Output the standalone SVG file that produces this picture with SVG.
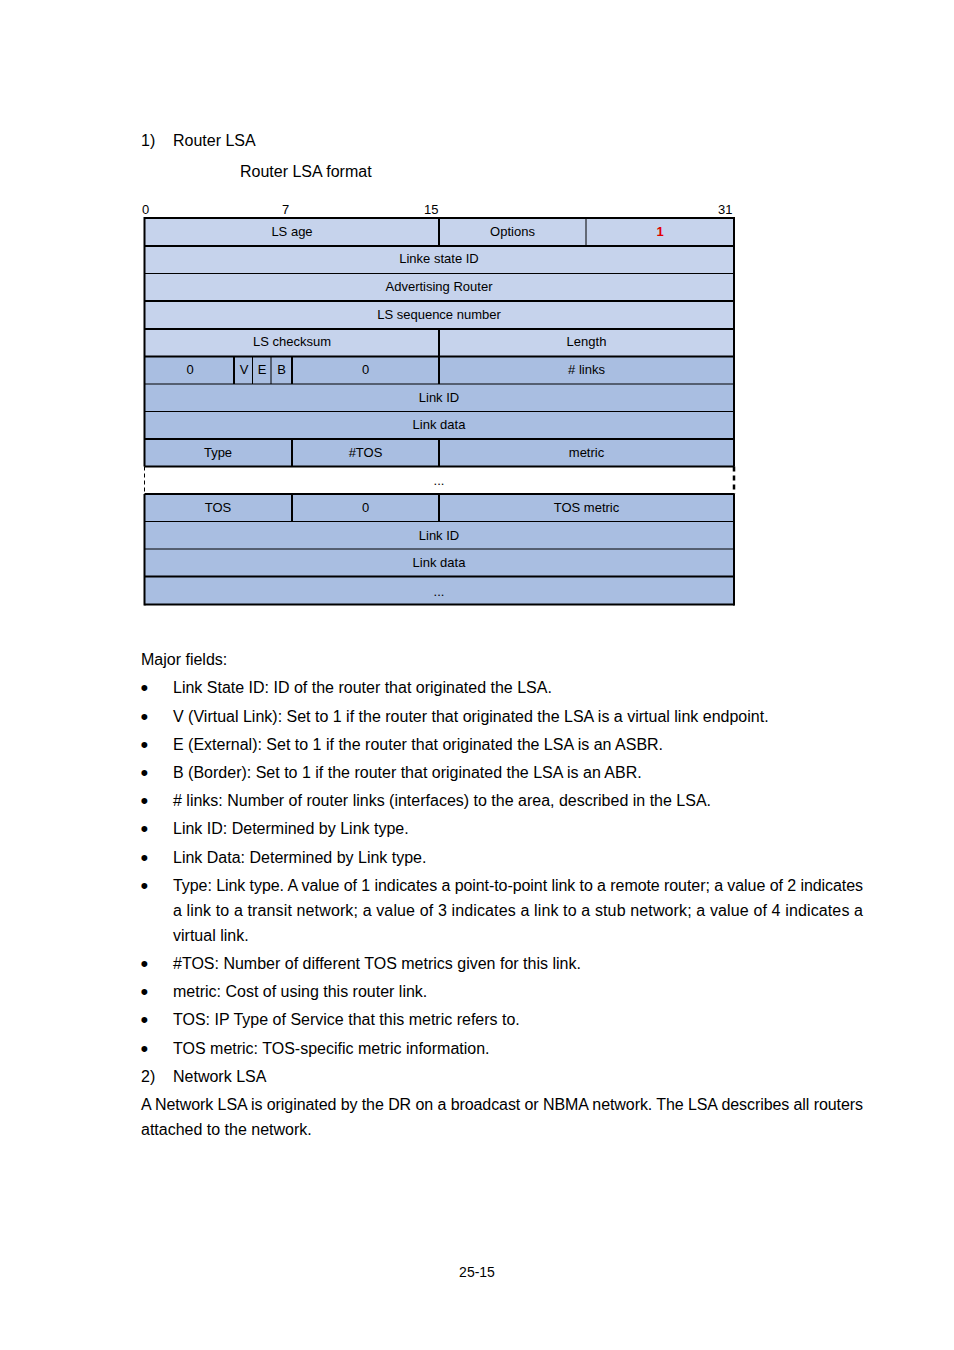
<svg xmlns="http://www.w3.org/2000/svg" width="954" height="1350" viewBox="0 0 954 1350">
<style>
text{font-family:"Liberation Sans",Arial,sans-serif;fill:#000}
.b{font-size:16px}
.d{font-size:22px}
.t{font-size:13px;text-anchor:middle}
.n{font-size:13px}
.l1{fill:#C6D3EC}
.l2{fill:#A9BEE1}
.k{stroke:#000;stroke-width:2;fill:none}
.h{stroke:#000;stroke-width:1;fill:none}
</style>
<rect width="954" height="1350" fill="#fff"/>
<text class="b" x="141" y="146">1)</text>
<text class="b" x="173" y="146">Router LSA</text>
<text class="b" x="240" y="177">Router LSA format</text>

<g id="bits">
<text class="n" x="142" y="214">0</text>
<text class="n" x="282" y="214">7</text>
<text class="n" x="424" y="214">15</text>
<text class="n" x="718" y="214">31</text>
</g>

<g id="table">
<rect class="l1" x="145" y="218" width="589" height="138.5"/>
<rect class="l2" x="145" y="356.5" width="589" height="110"/>
<rect class="l2" x="145" y="494" width="589" height="110.5"/>
<g id="rows">
<path class="k" d="M144.5 218H734.5M144.5 246H734.5M144.5 301H734.5M144.5 329H734.5M144.5 356.5H734.5M144.5 439H734.5M144.5 466.5H734.5M144.5 494H734.5M144.5 576.5H734.5M144.5 604.5H734.5"/>
<path class="h" d="M144.5 273.5H734.5M144.5 384H734.5M144.5 411.5H734.5M144.5 521.5H734.5M144.5 549H734.5"/>
<path class="k" d="M144.5 217V466.5M734 217V466.5M144.5 494V605.5M734 494V605.5"/>
<path class="k" d="M439 218V246M439 329V384M439 439V466.5M439 494V521.5M292 356.5V384M292 439V466.5M292 494V521.5M234 356.5V384"/>
<path class="h" d="M586 218V246M252.5 356.5V384M271 356.5V384"/>
<path class="h" stroke-dasharray="4,3" d="M144.5 466.5V494"/>
<path d="M734 466.5V494" stroke="#000" stroke-width="2.5" stroke-dasharray="5,4" fill="none"/>
</g>
<g id="labels">
<text class="t" x="292" y="235.5">LS age</text>
<text class="t" x="512.5" y="235.5">Options</text>
<text class="t" x="660" y="235.5" style="fill:#E00000;font-weight:bold">1</text>
<text class="t" x="439" y="263">Linke state ID</text>
<text class="t" x="439" y="291">Advertising Router</text>
<text class="t" x="439" y="318.5">LS sequence number</text>
<text class="t" x="292" y="346">LS checksum</text>
<text class="t" x="586.5" y="346">Length</text>
<text class="t" x="190" y="373.5">0</text>
<text class="t" x="244" y="373.5">V</text>
<text class="t" x="262" y="373.5">E</text>
<text class="t" x="281.5" y="373.5">B</text>
<text class="t" x="365.5" y="373.5">0</text>
<text class="t" x="586.5" y="373.5"># links</text>
<text class="t" x="439" y="401.5">Link ID</text>
<text class="t" x="439" y="428.5">Link data</text>
<text class="t" x="218" y="456.5">Type</text>
<text class="t" x="365.5" y="456.5">#TOS</text>
<text class="t" x="586.5" y="456.5">metric</text>
<text class="t" x="439" y="485">...</text>
<text class="t" x="218" y="511.5">TOS</text>
<text class="t" x="365.5" y="511.5">0</text>
<text class="t" x="586.5" y="511.5">TOS metric</text>
<text class="t" x="439" y="539.5">Link ID</text>
<text class="t" x="439" y="566.5">Link data</text>
<text class="t" x="439" y="596">...</text>
</g>
</g>

<g id="body">
<text class="b" x="141" y="665">Major fields:</text>
<g id="bullets">
<text class="d" x="140.6" y="695">•</text>
<text class="d" x="140.6" y="724">•</text>
<text class="d" x="140.6" y="752">•</text>
<text class="d" x="140.6" y="780">•</text>
<text class="d" x="140.6" y="808">•</text>
<text class="d" x="140.6" y="836">•</text>
<text class="d" x="140.6" y="865">•</text>
<text class="d" x="140.6" y="893">•</text>
<text class="d" x="140.6" y="971">•</text>
<text class="d" x="140.6" y="999">•</text>
<text class="d" x="140.6" y="1027">•</text>
<text class="d" x="140.6" y="1056">•</text>
</g>
<text class="b" x="173" y="693">Link State ID: ID of the router that originated the LSA.</text>
<text class="b" x="173" y="722">V (Virtual Link): Set to 1 if the router that originated the LSA is a virtual link endpoint.</text>
<text class="b" x="173" y="750">E (External): Set to 1 if the router that originated the LSA is an ASBR.</text>
<text class="b" x="173" y="778">B (Border): Set to 1 if the router that originated the LSA is an ABR.</text>
<text class="b" x="173" y="806"># links: Number of router links (interfaces) to the area, described in the LSA.</text>
<text class="b" x="173" y="834">Link ID: Determined by Link type.</text>
<text class="b" x="173" y="863">Link Data: Determined by Link type.</text>
<text class="b" x="173" y="891" textLength="690" lengthAdjust="spacing">Type: Link type. A value of 1 indicates a point-to-point link to a remote router; a value of 2 indicates</text>
<text class="b" x="173" y="916" textLength="690" lengthAdjust="spacing">a link to a transit network; a value of 3 indicates a link to a stub network; a value of 4 indicates a</text>
<text class="b" x="173" y="941">virtual link.</text>
<text class="b" x="173" y="969">#TOS: Number of different TOS metrics given for this link.</text>
<text class="b" x="173" y="997">metric: Cost of using this router link.</text>
<text class="b" x="173" y="1025">TOS: IP Type of Service that this metric refers to.</text>
<text class="b" x="173" y="1054">TOS metric: TOS-specific metric information.</text>
<text class="b" x="141" y="1082">2)</text>
<text class="b" x="173" y="1082">Network LSA</text>
<text class="b" x="141" y="1110" textLength="722" lengthAdjust="spacing">A Network LSA is originated by the DR on a broadcast or NBMA network. The LSA describes all routers</text>
<text class="b" x="141" y="1135">attached to the network.</text>
<text x="477" y="1277" style="font-size:14px;text-anchor:middle">25-15</text>
</g>
</svg>
